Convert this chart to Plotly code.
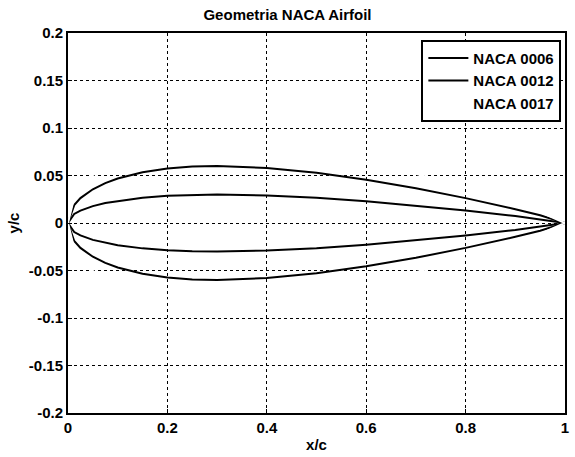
import plotly.graph_objects as go

# Chordwise stations (x/c)
x_stations = [0.0, 0.0125, 0.025, 0.05, 0.075, 0.1, 0.15, 0.2, 0.25, 0.3,
              0.4, 0.5, 0.6, 0.7, 0.8, 0.9, 0.95, 1.0]

# Upper / lower surfaces (y/c)
naca0006_upper = [0.0, 0.0095, 0.0131, 0.0178, 0.0210, 0.0234, 0.0267, 0.0287, 0.0297, 0.0300,
                  0.0290, 0.0265, 0.0228, 0.0183, 0.0131, 0.0073, 0.0040, 0.0]
naca0006_lower = [0.0, -0.0095, -0.0131, -0.0178, -0.0210, -0.0234, -0.0267, -0.0287, -0.0297, -0.0300,
                  -0.0290, -0.0265, -0.0228, -0.0183, -0.0131, -0.0073, -0.0040, 0.0]
naca0012_upper = [0.0, 0.0189, 0.0262, 0.0355, 0.0420, 0.0468, 0.0534, 0.0574, 0.0594, 0.0600,
                  0.0580, 0.0529, 0.0456, 0.0366, 0.0262, 0.0145, 0.0081, 0.0]
naca0012_lower = [0.0, -0.0189, -0.0262, -0.0355, -0.0420, -0.0468, -0.0534, -0.0574, -0.0594, -0.0600,
                  -0.0580, -0.0529, -0.0456, -0.0366, -0.0262, -0.0145, -0.0081, 0.0]
naca0017_upper = [0.0, 0.0268, 0.0371, 0.0503, 0.0595, 0.0663, 0.0757, 0.0813, 0.0842, 0.0850,
                  0.0822, 0.0749, 0.0646, 0.0519, 0.0371, 0.0205, 0.0115, 0.0]
naca0017_lower = [0.0, -0.0268, -0.0371, -0.0503, -0.0595, -0.0663, -0.0757, -0.0813, -0.0842, -0.0850,
                  -0.0822, -0.0749, -0.0646, -0.0519, -0.0371, -0.0205, -0.0115, 0.0]

series_names = ["NACA 0006", "NACA 0012", "NACA 0017"]
series_colors = ["black", "black", "white"]

x_ticks = [0, 0.2, 0.4, 0.6, 0.8, 1]
x_tick_labels = ["0", "0.2", "0.4", "0.6", "0.8", "1"]
y_ticks = [-0.2, -0.15, -0.1, -0.05, 0, 0.05, 0.1, 0.15, 0.2]
y_tick_labels = ["-0.2", "-0.15", "-0.1", "-0.05", "0", "0.05", "0.1", "0.15", "0.2"]

FONT = "Liberation Sans Narrow, Arial Narrow, Liberation Sans, sans-serif"

fig = go.Figure()
surfaces = [(naca0006_upper, naca0006_lower), (naca0012_upper, naca0012_lower),
            (naca0017_upper, naca0017_lower)]
for name, color, (up, lo) in zip(series_names, series_colors, surfaces):
    xs = x_stations[::-1] + x_stations[1:]
    ys = up[::-1] + lo[1:]
    fig.add_trace(go.Scatter(x=xs, y=ys, mode="lines", name=name,
                             line=dict(color=color, width=2)))

axis_common = dict(showline=True, mirror=True, linecolor="black", linewidth=2,
                   showgrid=True, gridcolor="black", gridwidth=1, griddash="dot",
                   zeroline=False, ticks="inside", ticklen=4, tickcolor="black",
                   tickfont=dict(family=FONT, size=15, color="black", weight="bold"))

fig.update_layout(
    width=575, height=457,
    margin=dict(l=68, r=6, t=33, b=42),
    paper_bgcolor="white", plot_bgcolor="white",
    xaxis=dict(range=[0, 1], tickvals=x_ticks, ticktext=x_tick_labels,
               ticklabeloverflow="allow",
               title=dict(text="x/c", standoff=4,
                          font=dict(family=FONT, size=15, color="black", weight="bold")),
               **axis_common),
    yaxis=dict(range=[-0.2, 0.2], tickvals=y_ticks, ticktext=y_tick_labels,
               title=dict(text="y/c", standoff=6,
                          font=dict(family=FONT, size=15, color="black", weight="bold")),
               **axis_common),
    legend=dict(x=0.711, y=0.982, xanchor="left", yanchor="top",
                bgcolor="white", bordercolor="black", borderwidth=2,
                font=dict(family=FONT, size=15, color="black", weight="bold"),
                tracegroupgap=0, itemwidth=40),
    showlegend=True,
    title=dict(text="Geometria NACA Airfoil", x=0.5, xanchor="center",
               y=1 - 15 / 457, yanchor="middle",
               font=dict(family=FONT, size=15, color="black", weight="bold")),
)

fig.write_html("out.html")
